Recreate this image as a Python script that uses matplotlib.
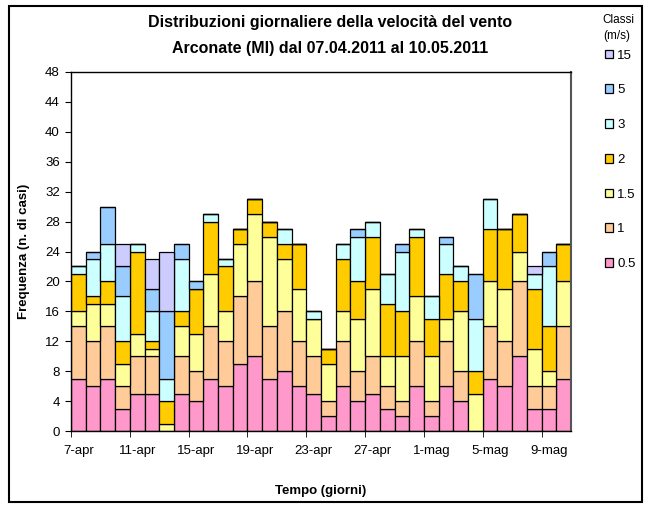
import matplotlib

matplotlib.use("Agg")
import matplotlib.pyplot as plt
import numpy as np
from matplotlib.patches import Rectangle

plt.rcParams["font.family"] = ["Liberation Sans", "DejaVu Sans"]

days = [f"{d}-apr" for d in range(7, 31)] + [f"{d}-mag" for d in range(1, 11)]

classes = ["0.5", "1", "1.5", "2", "3", "5", "15"]
colors = ["#FF99CC", "#FFCC99", "#FFFF99", "#FFCC00", "#CCFFFF", "#99CCFF", "#CCCCFF"]

c05 = [7, 6, 7, 3, 5, 5, 0, 5, 4, 7, 6, 9, 10, 7, 8, 6, 5, 2, 6, 4, 5, 3, 2, 6, 2, 6, 4, 0, 7, 6, 10, 3, 3, 7]
c1 = [7, 6, 7, 3, 5, 5, 0, 5, 4, 7, 6, 9, 10, 7, 8, 6, 5, 2, 6, 4, 5, 3, 2, 6, 2, 6, 4, 0, 7, 6, 10, 3, 3, 7]
c15 = [2, 5, 3, 3, 3, 1, 1, 4, 5, 7, 4, 7, 9, 12, 7, 7, 5, 5, 4, 7, 9, 4, 6, 6, 6, 3, 8, 5, 6, 7, 4, 5, 2, 6]
c2 = [5, 1, 3, 3, 11, 1, 3, 2, 6, 7, 6, 2, 2, 2, 2, 6, 0, 2, 7, 5, 7, 7, 6, 8, 5, 6, 4, 3, 7, 8, 5, 8, 6, 5]
c3 = [1, 5, 5, 6, 1, 4, 3, 7, 0, 1, 1, 0, 0, 0, 2, 0, 1, 0, 2, 6, 2, 4, 8, 1, 3, 4, 2, 7, 4, 0, 0, 2, 8, 0]
c5 = [0, 1, 5, 4, 0, 3, 9, 2, 1, 0, 0, 0, 0, 0, 0, 0, 0, 0, 0, 1, 0, 0, 1, 0, 0, 1, 0, 6, 0, 0, 0, 0, 2, 0]
c15ms = [0, 0, 0, 3, 0, 4, 8, 0, 0, 0, 0, 0, 0, 0, 0, 0, 0, 0, 0, 0, 0, 0, 0, 0, 0, 0, 0, 0, 0, 0, 0, 1, 0, 0]

series = [c05, c1, c15, c2, c3, c5, c15ms]

W, H = 650, 505
fig = plt.figure(figsize=(W / 100, H / 100), dpi=100)
fig.patch.set_facecolor("white")
ax = fig.add_axes([71 / W, (H - 431) / H, 500 / W, 359 / H])

x = np.arange(len(days))
bottom = np.zeros(len(days))
handles = []
for label, values, color in zip(classes, series, colors):
    values = np.array(values)
    bars = ax.bar(x, values, width=1.0, bottom=bottom, color=color,
                  edgecolor="black", linewidth=0.9, label=label)
    handles.append(bars)
    bottom += values

ax.set_xlim(-0.5, len(days) - 0.5)
ax.set_ylim(0, 48)
ax.set_yticks(np.arange(0, 49, 4))
ax.set_xticks(x[::4])
ax.set_xticklabels(days[::4])
ax.set_xticks(np.arange(-0.5, len(days), 4), minor=True)
ax.tick_params(axis="x", which="major", length=0, pad=10, labelsize=9.5)
ax.tick_params(axis="x", which="minor", length=4, direction="out")
ax.tick_params(axis="y", length=4, direction="out", labelsize=9.5, pad=4)
for spine in ax.spines.values():
    spine.set_color("black")
    spine.set_linewidth(1.0)
ax.spines["right"].set_color("#555555")
ax.spines["right"].set_linewidth(1.5)

ax.set_xlabel("Tempo (giorni)", fontsize=9.5, fontweight="bold", labelpad=20)
ax.set_ylabel("Frequenza (n. di casi)", fontsize=9.5, fontweight="bold", labelpad=11)

fig.text(330 / W, 1 - 22 / H, "Distribuzioni giornaliere della velocità del vento",
         ha="center", va="center", fontsize=11.5, fontweight="bold")
fig.text(330 / W, 1 - 48 / H, "Arconate (MI) dal 07.04.2011 al 10.05.2011",
         ha="center", va="center", fontsize=11.5, fontweight="bold")

fig.text(618 / W, 1 - 20 / H, "Classi", ha="center", va="center", fontsize=8.5)
fig.text(617 / W, 1 - 36 / H, "(m/s)", ha="center", va="center", fontsize=8.5)
fig.legend(handles[::-1], classes[::-1], loc="upper left",
           bbox_to_anchor=(598 / W, 1 - 43 / H), frameon=False,
           fontsize=9.5, handlelength=0.65, handleheight=0.65,
           handletextpad=0.3, labelspacing=1.72, borderpad=0)

fig.patches.append(Rectangle((9 / W, 1 - 502 / H), 633 / W, 496 / H,
                             transform=fig.transFigure, fill=False,
                             edgecolor="black", linewidth=1.5))

fig.savefig("out.png", dpi=100)
